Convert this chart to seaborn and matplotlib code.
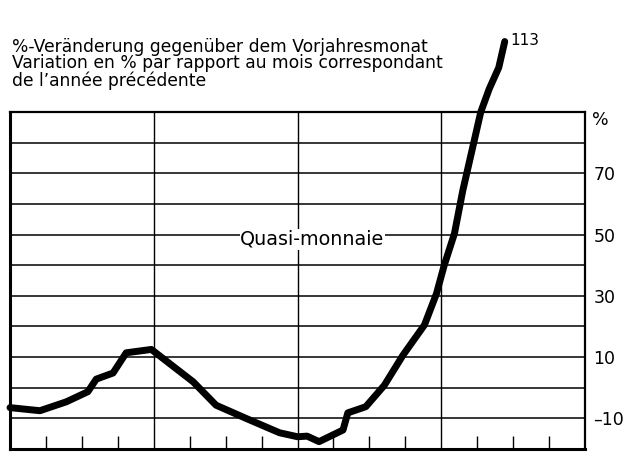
import matplotlib
matplotlib.use("Agg")
import matplotlib.pyplot as plt
import seaborn as sns

# months since start of chart (year gridlines at 12, 24, 36)
months = [0, 2.5, 4.7, 6.5, 7.2, 8.6, 9.7, 11.8, 15.3, 17.2, 19.7, 22.5, 24, 24.8,
          25.8, 27.8, 28.2, 29.7, 31.25, 32.8, 34.6, 35.6, 36.25, 37.1, 37.8,
          38.75, 39.3, 40, 40.8, 41.3]
# % change vs same month of previous year (Quasi-monnaie)
values = [-6.5, -7.5, -4.6, -1.3, 2.8, 4.8, 11.4, 12.5, 1.9, -5.7, -10, -14.7, -16,
          -15.8, -17.6, -13.8, -8.2, -6.2, 0.8, 10.6, 20.5, 30.7, 40, 50.3, 64.4,
          80.6, 90, 97.5, 104.5, 113]

year_lines = [12, 24, 36]
quarter_ticks = [3, 6, 9, 15, 18, 21, 27, 30, 33, 39, 42, 45]
grid_levels = [-10, 0, 10, 20, 30, 40, 50, 60, 70, 80]
label_levels = [70, 50, 30, 10, -10]

title_lines = ["%-Veränderung gegenüber dem Vorjahresmonat",
               "Variation en % par rapport au mois correspondant",
               "de l\u2019année précédente"]
title_baselines = [51.5, 68.5, 86]  # pixels from top

sns.set_style("white")
plt.rcParams['font.family'] = ['DejaVu Sans']
plt.rcParams['text.color'] = 'black'
plt.rcParams['ytick.color'] = 'black'

fig = plt.figure(figsize=(6.37, 4.53), dpi=100)
ax = fig.add_axes([10 / 637, 4 / 453, 575 / 637, 337 / 453])

sns.lineplot(x=months, y=values, ax=ax, color="black", linewidth=5.0, zorder=5)
ax.lines[0].set_clip_on(False)

ax.set_xlim(0, 48)
ax.set_ylim(-20, 90)

for lv in grid_levels:
    ax.axhline(lv, color="black", linewidth=1.1, zorder=1)
for m in year_lines:
    ax.axvline(m, color="black", linewidth=1.0, zorder=1)

ax.set_xticks(quarter_ticks)
ax.set_xticklabels([])
ax.tick_params(axis="x", direction="in", length=9.5, width=1.0, color="black",
               bottom=True, top=False)

ax.yaxis.tick_right()
ax.set_yticks(label_levels)
ax.set_yticklabels([str(v) if v >= 0 else "\u2013" + str(-v) for v in label_levels],
                   fontsize=12.5, color="black")
ax.tick_params(axis="y", length=0, pad=6, right=True, left=False)
ax.text(1.012, 0.975, "%", transform=ax.transAxes, fontsize=12.5, va="center", ha="left")

for s in ax.spines.values():
    s.set_color("black")
    s.set_linewidth(1.6)
ax.spines["left"].set_linewidth(2.2)
ax.spines["bottom"].set_linewidth(2.2)

ax.text(25.25, 48.4, "Quasi-monnaie", fontsize=13.8, ha="center", va="center",
        zorder=3, bbox=dict(facecolor="white", edgecolor="none", pad=0.5))
ax.text(41.8, 113.5, "113", fontsize=11, ha="left", va="center", clip_on=False)

for line, base in zip(title_lines, title_baselines):
    fig.text(12 / 637, 1 - base / 453, line, fontsize=12.3,
             ha="left", va="baseline")

ax.set_xlabel("")
ax.set_ylabel("")
fig.savefig("out.png", dpi=100)
